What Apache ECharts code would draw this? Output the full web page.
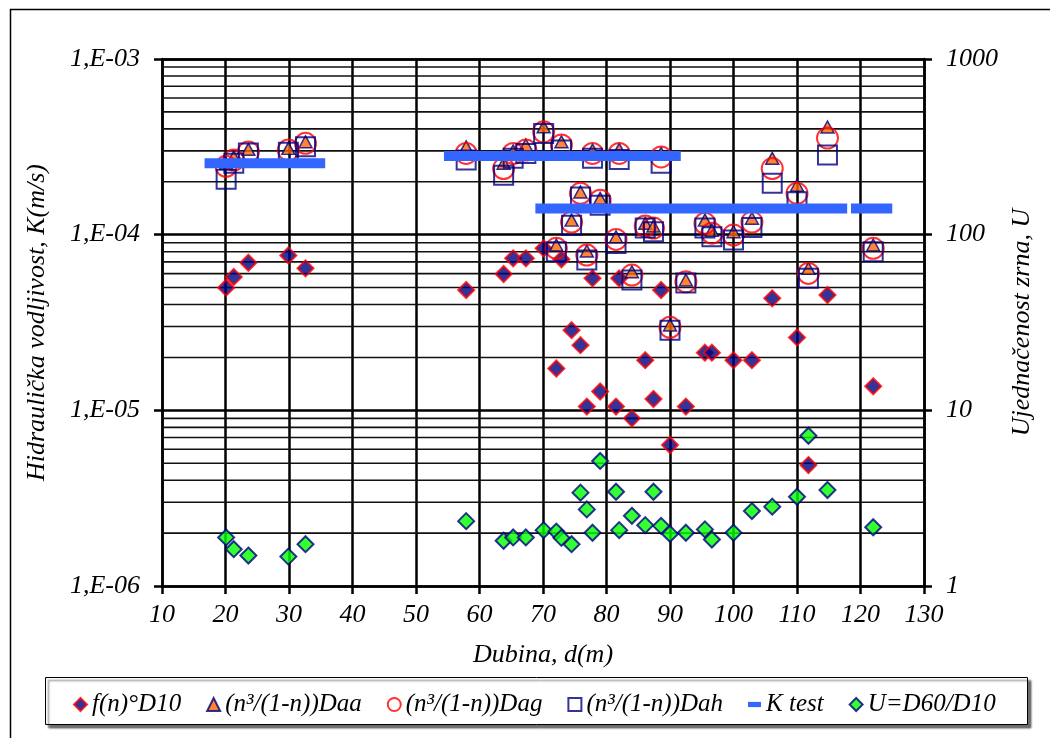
<!DOCTYPE html>
<html>
<head>
<meta charset="utf-8">
<script src="https://cdn.jsdelivr.net/npm/echarts@6/dist/echarts.min.js"></script>
<style>
  html, body { margin: 0; padding: 0; background: #fff; }
  #chart { width: 1050px; height: 738px; }
</style>
</head>
<body>
<div id="chart"></div>
<script>
// Sample depths (m), shared by every measured series
const depth = [20.1, 21.3, 23.6, 29.9, 32.6, 57.9, 63.8, 65.3, 67.3, 70.1,
               72.1, 72.9, 74.5, 75.9, 76.9, 77.8, 79.0, 81.5, 82.0, 84.0,
               86.1, 87.4, 88.6, 90.0, 92.5, 95.5, 96.6, 100.0, 102.9, 106.1,
               110.0, 111.8, 114.8, 122.0];

// Hydraulic conductivity K (m/s) by method
const kD10 = [4.99e-5, 5.75e-5, 6.92e-5, 7.62e-5, 6.43e-5, 4.84e-5, 5.97e-5, 7.33e-5, 7.33e-5, 8.36e-5,
              1.73e-5, 7.24e-5, 2.86e-5, 2.35e-5, 1.05e-5, 5.64e-5, 1.28e-5, 1.05e-5, 5.64e-5, 9.0e-6,
              1.93e-5, 1.16e-5, 4.84e-5, 6.35e-6, 1.05e-5, 2.13e-5, 2.13e-5, 1.93e-5, 1.93e-5, 4.34e-5,
              2.60e-5, 4.88e-6, 4.53e-5, 1.37e-5];
const kDaa = [2.55e-4, 2.77e-4, 3.06e-4, 3.10e-4, 3.38e-4, 3.16e-4, 2.55e-4, 3.00e-4, 3.24e-4, 4.11e-4,
              8.73e-5, 3.38e-4, 1.21e-4, 1.75e-4, 8.07e-5, 3.03e-4, 1.61e-4, 9.73e-5, 3.06e-4, 6.15e-5,
              1.16e-4, 1.12e-4, 2.90e-4, 3.06e-5, 5.52e-5, 1.21e-4, 1.06e-4, 1.04e-4, 1.24e-4, 2.72e-4,
              1.91e-4, 6.43e-5, 4.10e-4, 8.73e-5];
const kDag = [2.45e-4, 2.66e-4, 2.96e-4, 3.03e-4, 3.31e-4, 2.90e-4, 2.38e-4, 2.90e-4, 3.03e-4, 3.85e-4,
              8.36e-5, 3.24e-4, 1.18e-4, 1.72e-4, 7.65e-5, 2.90e-4, 1.57e-4, 9.40e-5, 2.90e-4, 5.89e-5,
              1.12e-4, 1.09e-4, 2.77e-4, 2.97e-5, 5.39e-5, 1.16e-4, 1.02e-4, 9.95e-5, 1.18e-4, 2.38e-4,
              1.72e-4, 6.02e-5, 3.55e-4, 8.36e-5];
const kDah = [2.07e-4, 2.55e-4, 2.92e-4, 2.95e-4, 3.17e-4, 2.66e-4, 2.18e-4, 2.72e-4, 2.90e-4, 3.77e-4,
              8.00e-5, 3.03e-4, 1.13e-4, 1.64e-4, 7.17e-5, 2.72e-4, 1.47e-4, 8.92e-5, 2.68e-4, 5.52e-5,
              1.09e-4, 1.04e-4, 2.55e-4, 2.86e-5, 5.30e-5, 1.09e-4, 9.73e-5, 9.32e-5, 1.10e-4, 1.96e-4,
              1.54e-4, 5.64e-5, 2.84e-4, 8.00e-5];

// Grain uniformity U = D60/D10 (right axis)
const uniformity = [1.89, 1.62, 1.49, 1.47, 1.73, 2.34, 1.81, 1.89, 1.89, 2.08,
                    2.04, 1.88, 1.73, 3.40, 2.73, 2.01, 5.15, 3.44, 2.08, 2.51,
                    2.22, 3.44, 2.20, 1.98, 2.01, 2.10, 1.84, 2.01, 2.67, 2.83,
                    3.22, 7.17, 3.52, 2.16];

// Field test intervals (depth from / to) and their K
const kTestFrom  = [16.7, 54.4, 68.8, 118.5];
const kTestTo    = [35.7, 91.7, 117.9, 125.0];
const kTestValue = [2.55e-4, 2.80e-4, 1.41e-4, 1.41e-4];

// Tick labels
const kTickLabels = ['1,E-06', '1,E-05', '1,E-04', '1,E-03'];
const uTickLabels = ['1', '10', '100', '1000'];

// Minor log grid lines (2..9 in each decade of K)
const minorGridK = [];
[-6, -5, -4].forEach(function (e) {
  [2, 3, 4, 5, 6, 7, 8, 9].forEach(function (m) { minorGridK.push(m * Math.pow(10, e)); });
});
const depthMin = 10, depthMax = 130;

const seriesNames = ['f(n)°D10', '(n³/(1-n))Daa', '(n³/(1-n))Dag', '(n³/(1-n))Dah', 'K test', 'U=D60/D10'];

function pairs(xs, ys) { return xs.map(function (x, i) { return [x, ys[i]]; }); }

// Broken polyline: one horizontal piece per interval
function segments(from, to, val) {
  const out = [];
  from.forEach(function (f, i) {
    if (i > 0) out.push([f, '-']);
    out.push([f, val[i]]);
    out.push([to[i], val[i]]);
  });
  return out;
}

const kTestData = segments(kTestFrom, kTestTo, kTestValue);
const minorGridData = segments(
  minorGridK.map(function () { return depthMin; }),
  minorGridK.map(function () { return depthMax; }),
  minorGridK);

const FONT = "'Liberation Serif', 'Times New Roman', serif";
const labelStyle = { fontFamily: FONT, fontStyle: 'italic', fontSize: 26, color: '#000' };
const blackLine = { color: '#000', width: 2.5 };

const chart = echarts.init(document.getElementById('chart'), null, { renderer: 'canvas' });

chart.setOption({
  animation: false,
  backgroundColor: '#fff',
  graphic: [
    { type: 'rect', left: 8, top: 7, silent: true, z: -10,
      shape: { width: 1100, height: 800 },
      style: { fill: 'none', stroke: '#000', lineWidth: 1.5 } },
    { type: 'rect', left: 45, top: 677, silent: true, z: -5,
      shape: { width: 982, height: 47 },
      style: { fill: '#fff', stroke: '#000', lineWidth: 1,
               shadowColor: 'rgba(0,0,0,0.55)', shadowBlur: 2, shadowOffsetX: 3, shadowOffsetY: 3 } }
  ],
  grid: { left: 162, right: 126, top: 59, bottom: 152 },
  legend: {
    left: 68, top: 687,
    itemWidth: 13, itemHeight: 13, itemGap: 25,
    textStyle: { fontFamily: FONT, fontStyle: 'italic', fontSize: 25, color: '#000' },
    data: [
      { name: seriesNames[0] },
      { name: seriesNames[1] },
      { name: seriesNames[2] },
      { name: seriesNames[3] },
      { name: seriesNames[4], icon: 'path://M0,0H10V4H0Z' },
      { name: seriesNames[5] }
    ]
  },
  xAxis: {
    type: 'value', min: depthMin, max: depthMax, interval: 10,
    name: 'Dubina, d(m)', nameLocation: 'middle', nameGap: 56,
    nameTextStyle: labelStyle,
    axisLine: { lineStyle: blackLine },
    axisTick: { show: true, inside: false, length: 8, lineStyle: blackLine },
    axisLabel: Object.assign({ margin: 16 }, labelStyle),
    splitLine: { show: true, lineStyle: blackLine }
  },
  yAxis: [
    {
      type: 'log', logBase: 10, min: 1e-6, max: 1e-3, position: 'left',
      name: 'Hidraulička vodljivost, K(m/s)', nameLocation: 'middle', nameGap: 112, nameRotate: 90,
      nameTextStyle: labelStyle,
      axisLine: { show: true, lineStyle: blackLine },
      axisTick: { show: true, inside: false, length: 8, lineStyle: blackLine },
      axisLabel: Object.assign({
        margin: 22,
        formatter: function (v) { return kTickLabels[Math.round(Math.log10(v)) + 6]; }
      }, labelStyle),
      splitLine: { show: true, lineStyle: blackLine }
    },
    {
      type: 'log', logBase: 10, min: 1, max: 1000, position: 'right',
      name: 'Ujednačenost zrna, U', nameLocation: 'middle', nameGap: 74, nameRotate: 90,
      nameTextStyle: labelStyle,
      axisLine: { show: true, lineStyle: blackLine },
      axisTick: { show: true, inside: false, length: 8, lineStyle: blackLine },
      axisLabel: Object.assign({
        margin: 22,
        formatter: function (v) { return uTickLabels[Math.round(Math.log10(v))]; }
      }, labelStyle),
      splitLine: { show: false }
    }
  ],
  series: [
    {
      name: 'minor grid', type: 'line', yAxisIndex: 0, z: 1,
      data: minorGridData, connectNulls: false,
      symbol: 'none', silent: true,
      lineStyle: { color: '#111', width: 1.6 },
      emphasis: { disabled: true }, tooltip: { show: false }
    },
    {
      name: seriesNames[0], type: 'scatter', yAxisIndex: 0,
      data: pairs(depth, kD10),
      symbol: 'diamond', symbolSize: 16,
      itemStyle: { color: '#000080', borderColor: '#FF0000', borderWidth: 2 }
    },
    {
      name: seriesNames[1], type: 'scatter', yAxisIndex: 0,
      data: pairs(depth, kDaa),
      symbol: 'triangle', symbolSize: [13, 12],
      itemStyle: { color: '#FF6600', borderColor: '#000080', borderWidth: 1.5 }
    },
    {
      name: seriesNames[2], type: 'scatter', yAxisIndex: 0,
      data: pairs(depth, kDag),
      symbol: 'circle', symbolSize: 21,
      itemStyle: { color: 'rgba(255,255,255,0)', borderColor: '#FF0000', borderWidth: 2 }
    },
    {
      name: seriesNames[3], type: 'scatter', yAxisIndex: 0,
      data: pairs(depth, kDah),
      symbol: 'rect', symbolSize: 19,
      itemStyle: { color: 'rgba(255,255,255,0)', borderColor: '#000080', borderWidth: 2 }
    },
    {
      name: seriesNames[4], type: 'line', yAxisIndex: 0,
      data: kTestData, connectNulls: false,
      symbol: 'none', color: '#3366FF',
      lineStyle: { color: '#3366FF', width: 10, cap: 'butt' }
    },
    {
      name: seriesNames[5], type: 'scatter', yAxisIndex: 1,
      data: pairs(depth, uniformity),
      symbol: 'diamond', symbolSize: 16,
      itemStyle: { color: '#00FF00', borderColor: '#000080', borderWidth: 2 }
    }
  ]
});
</script>
</body>
</html>
